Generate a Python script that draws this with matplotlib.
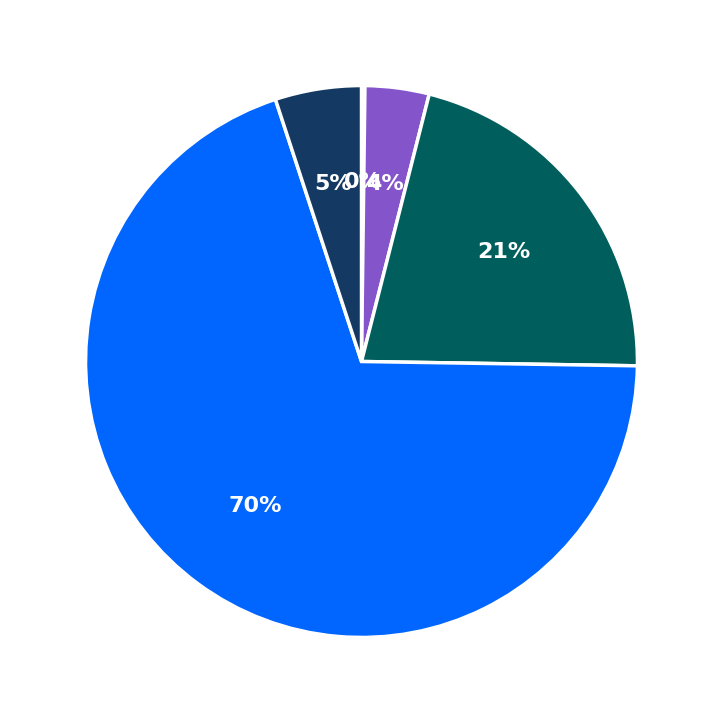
import matplotlib.pyplot as plt

# 各部分占比
labels = ['A', 'B', 'C', 'D', 'E']
values = [0.2, 3.75, 21.3, 69.7, 5.05]
colors = ['#8454CB', '#8454CB', '#005F5C', '#0066FF', '#143A63']

fig = plt.figure(figsize=(7.23, 7.23), dpi=100)
ax = fig.add_axes([0, 0, 1, 1])

wedges, texts, autotexts = ax.pie(values, colors=colors, startangle=90, counterclock=False,
                                  autopct='%.0f%%', pctdistance=0.65,
                                  wedgeprops=dict(edgecolor='white', linewidth=2.5),
                                  textprops=dict(color='white', fontsize=16, fontweight='bold'))
ax.set_xlim(-1.31, 1.31)
ax.set_ylim(-1.31, 1.31)
ax.set_aspect('equal')

fig.savefig('out.png', dpi=100)
